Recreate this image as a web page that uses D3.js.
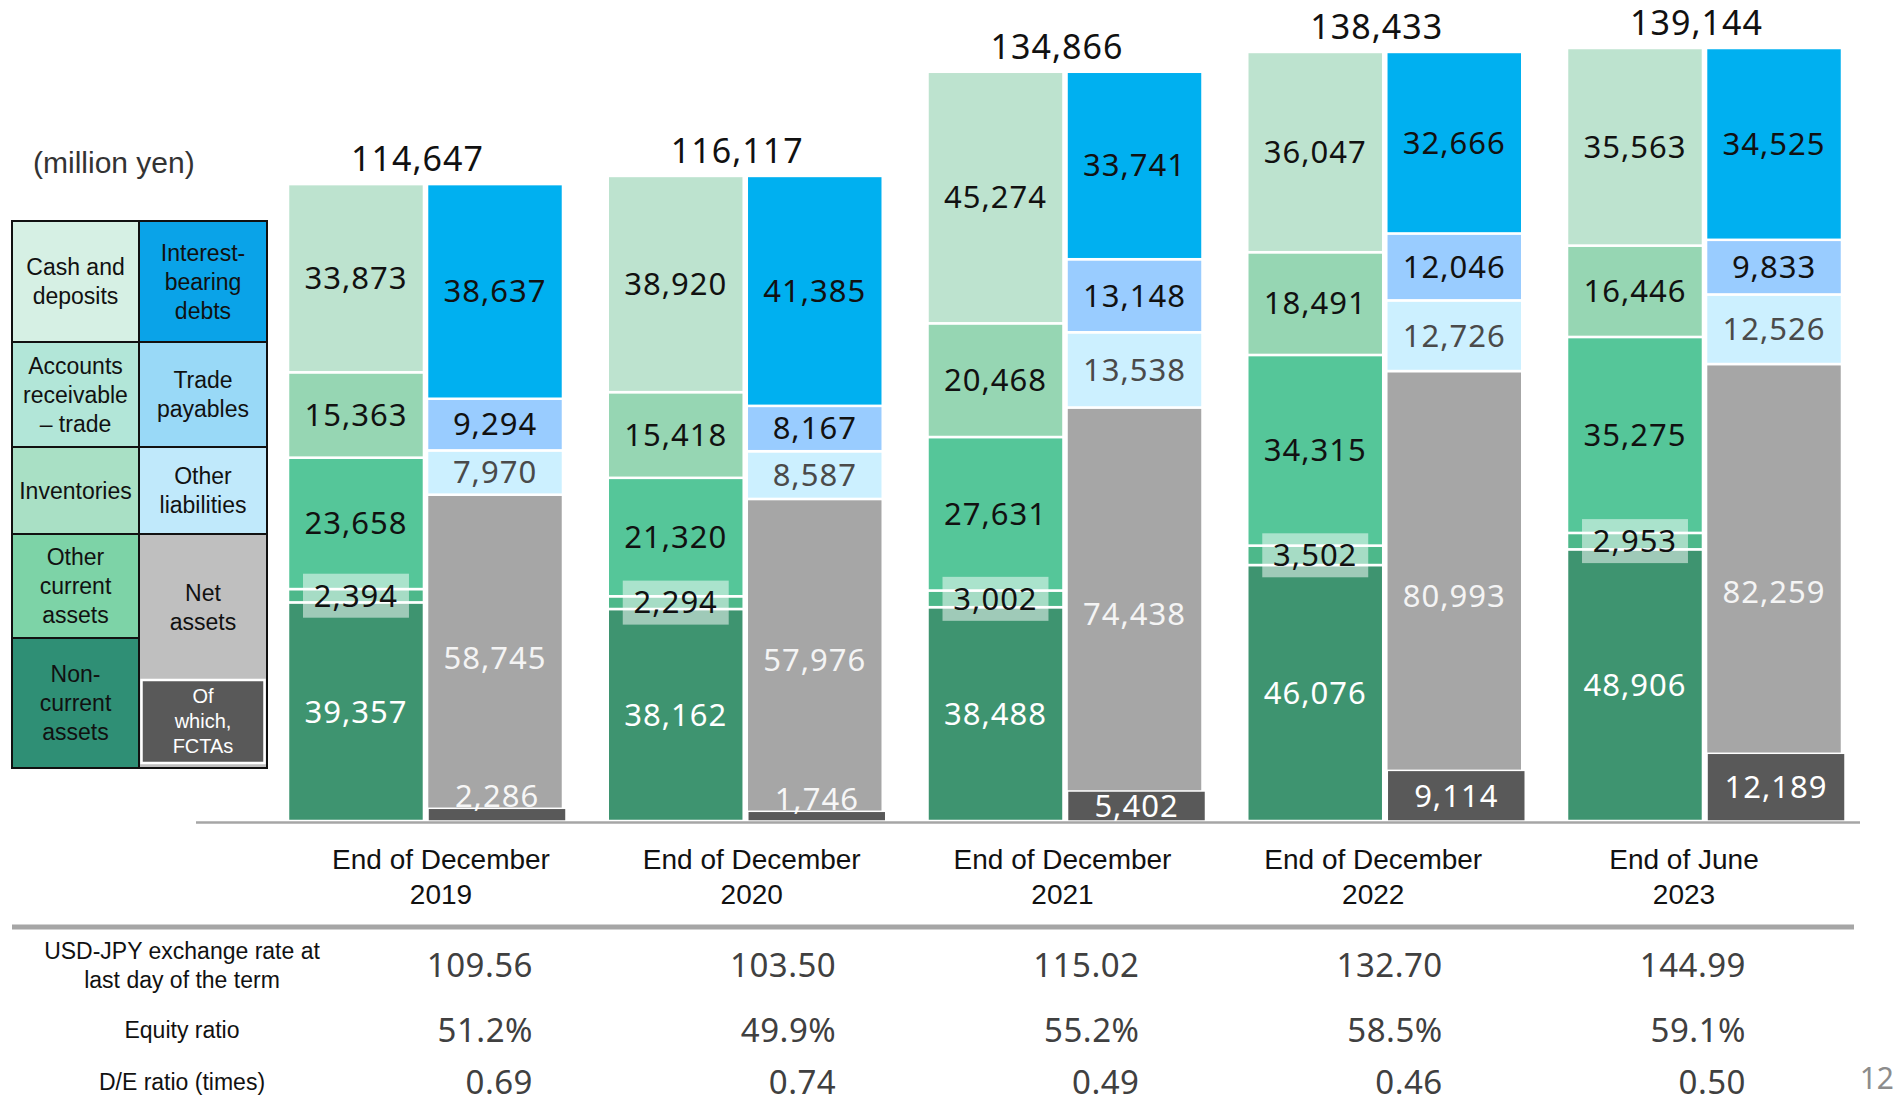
<!DOCTYPE html>
<meta charset="utf-8">
<style>
body { margin:0; background:#fff; }
svg text { font-family:"Noto Sans", sans-serif; }
.arial { font-family:"Liberation Sans", Arial, sans-serif !important; }
</style>
<script src="https://d3js.org/d3.v7.min.js"></script>
<div id="chart"></div>
<script>
// data (million yen)
var categories = ["2019", "2020", "2021", "2022", "2023"];
var catLabels = [["End of December", "2019"], ["End of December", "2020"], ["End of December", "2021"], ["End of December", "2022"], ["End of June", "2023"]];
var totals = [114647, 116117, 134866, 138433, 139144];

var cash = [33873, 38920, 45274, 36047, 35563];
var receivables = [15363, 15418, 20468, 18491, 16446];
var inventories = [23658, 21320, 27631, 34315, 35275];
var otherCurrent = [2394, 2294, 3002, 3502, 2953];
var nonCurrent = [39357, 38162, 38488, 46076, 48906];

var interestDebt = [38637, 41385, 33741, 32666, 34525];
var tradePayables = [9294, 8167, 13148, 12046, 9833];
var otherLiab = [7970, 8587, 13538, 12726, 12526];
var netAssets = [58745, 57976, 74438, 80993, 82259];
var fctas = [2286, 1746, 5402, 9114, 12189];

var fxRate = ["109.56", "103.50", "115.02", "132.70", "144.99"];
var equityRatio = ["51.2%", "49.9%", "55.2%", "58.5%", "59.1%"];
var deRatio = ["0.69", "0.74", "0.49", "0.46", "0.50"];

var W = 1894, H = 1104;
var svg = d3.select("#chart").append("svg").attr("width", W).attr("height", H);

// scales
var x = d3.scaleBand().domain(categories).range([288, 1842]).paddingInner(0.14).paddingOuter(0);
var xSide = d3.scaleBand().domain(["assets", "liab"]).range([0, x.bandwidth()]).paddingInner(0.022);
var y = d3.scaleLinear().domain([0, d3.max(totals)]).range([821, 48]);

var fmt = d3.format(",");

// build rows
var rows = categories.map(function(c, i) {
  return { cat: c, cash: cash[i], receivables: receivables[i], inventories: inventories[i],
    otherCurrent: otherCurrent[i], nonCurrent: nonCurrent[i], interestDebt: interestDebt[i],
    tradePayables: tradePayables[i], otherLiab: otherLiab[i], netAssets: netAssets[i], fctas: fctas[i] };
});

var assetKeys = ["nonCurrent", "otherCurrent", "inventories", "receivables", "cash"];
var liabKeys = ["netAssets", "otherLiab", "tradePayables", "interestDebt"];
var fill = {
  cash: "#bde3cf", receivables: "#96d6b3", inventories: "#55c699", otherCurrent: "#4db88a", nonCurrent: "#3e9470",
  interestDebt: "#00b0f0", tradePayables: "#99ccff", otherLiab: "#ccf0ff", netAssets: "#a6a6a6"
};
var txt = {
  cash: "#111", receivables: "#111", inventories: "#111", otherCurrent: "#111", nonCurrent: "#fff",
  interestDebt: "#111", tradePayables: "#111", otherLiab: "#4a4a4a", netAssets: "#f4f4f4"
};

var barLayer = svg.append("g");
var boxLayer = svg.append("g");
var fctaLayer = svg.append("g");
var labelLayer = svg.append("g");

function drawSide(keys, side) {
  var series = d3.stack().keys(keys)(rows);
  series.forEach(function(s) {
    barLayer.append("g").selectAll("rect").data(s).join("rect")
      .attr("x", function(d) { return x(d.data.cat) + xSide(side); })
      .attr("width", xSide.bandwidth())
      .attr("y", function(d) { return y(d[1]); })
      .attr("height", function(d) { return y(d[0]) - y(d[1]); })
      .attr("fill", fill[s.key])
      .attr("stroke", "#fff").attr("stroke-width", 2.5);
    if (s.key === "otherCurrent") {
      // thin segment gets a see-through label box
      boxLayer.selectAll("rect").data(s).join("rect")
        .attr("x", function(d) { return x(d.data.cat) + xSide(side) + 15; })
        .attr("width", xSide.bandwidth() - 30)
        .attr("y", function(d) { return (y(d[0]) + y(d[1])) / 2 - 22; })
        .attr("height", 44)
        .attr("fill", "#fff").attr("opacity", 0.5);
    }
    labelLayer.append("g").selectAll("text").data(s).join("text")
      .attr("x", function(d) { return x(d.data.cat) + xSide(side) + xSide.bandwidth() / 2; })
      .attr("y", function(d) { return (y(d[0]) + y(d[1])) / 2; })
      .attr("dy", "0.35em")
      .attr("text-anchor", "middle")
      .attr("font-size", 31).attr("letter-spacing", 1)
      .attr("fill", txt[s.key])
      .text(function(d) { return fmt(d[1] - d[0]); });
  });
}
drawSide(assetKeys, "assets");
drawSide(liabKeys, "liab");

// FCTAs inside net assets
fctaLayer.selectAll("rect").data(rows).join("rect")
  .attr("x", function(d) { return x(d.cat) + xSide("liab") + 1; })
  .attr("width", xSide.bandwidth() + 2)
  .attr("y", function(d) { return y(d.fctas); })
  .attr("height", function(d) { return y(0) - y(d.fctas); })
  .attr("fill", "#595959").attr("stroke", "#fff").attr("stroke-width", 1.5);

labelLayer.append("g").selectAll("text").data(rows).join("text")
  .attr("x", function(d) { return x(d.cat) + xSide("liab") + xSide.bandwidth() / 2 + 2; })
  .attr("y", function(d) {
    var h = y(0) - y(d.fctas);
    return h < 28 ? y(d.fctas) - 12 : y(d.fctas / 2);
  })
  .attr("dy", "0.35em").attr("text-anchor", "middle")
  .attr("font-size", 31).attr("letter-spacing", 1).attr("fill", "#fff")
  .attr("opacity", function(d) { return y(0) - y(d.fctas) < 28 ? 0.9 : 1; })
  .text(function(d) { return fmt(d.fctas); });

// totals
labelLayer.append("g").selectAll("text").data(rows).join("text")
  .attr("x", function(d) { return x(d.cat) + x.bandwidth() / 2 - 8; })
  .attr("y", function(d, i) { return y(totals[i]) - 13; })
  .attr("text-anchor", "middle")
  .attr("font-size", 34).attr("letter-spacing", 1).attr("fill", "#111")
  .text(function(d, i) { return fmt(totals[i]); });

// baseline
svg.append("line").attr("x1", 196).attr("x2", 1860).attr("y1", y(0) + 1.5).attr("y2", y(0) + 1.5)
  .attr("stroke", "#a6a6a6").attr("stroke-width", 2.5);

// category labels
var xCat = d3.scalePoint().domain(categories).range([441, 1684]);
var catG = svg.append("g").selectAll("text").data(categories).join("text")
  .attr("class", "arial")
  .attr("x", function(d) { return xCat(d); })
  .attr("y", 859).attr("text-anchor", "middle")
  .attr("font-size", 28).attr("fill", "#111");
catG.selectAll("tspan").data(function(d, i) { return catLabels[i]; }).join("tspan")
  .attr("x", function() { return xCat(d3.select(this.parentNode).datum()); })
  .attr("dy", function(d, j) { return j === 0 ? "0.35em" : "1.25em"; })
  .text(function(d) { return d; });

// table separator
svg.append("line").attr("x1", 12).attr("x2", 1854).attr("y1", 927).attr("y2", 927)
  .attr("stroke", "#a6a6a6").attr("stroke-width", 5);

// table
var xVal = d3.scalePoint().domain(categories).range([533, 1746]);
var tableRows = [
  { label: ["USD-JPY exchange rate at", "last day of the term"], values: fxRate, y: 965 },
  { label: ["Equity ratio"], values: equityRatio, y: 1030 },
  { label: ["D/E ratio (times)"], values: deRatio, y: 1082 }
];
tableRows.forEach(function(r) {
  var t = svg.append("text").attr("class", "arial").attr("x", 182)
    .attr("y", r.y - (r.label.length - 1) * 14.5).attr("text-anchor", "middle")
    .attr("font-size", 23).attr("fill", "#111");
  t.selectAll("tspan").data(r.label).join("tspan")
    .attr("x", 182).attr("dy", function(d, j) { return j === 0 ? "0.35em" : "1.26em"; })
    .text(function(d) { return d; });
  svg.append("g").selectAll("text").data(r.values).join("text")
    .attr("x", function(d, i) { return xVal(categories[i]); })
    .attr("y", r.y).attr("dy", "0.35em").attr("text-anchor", "end")
    .attr("font-size", 33).attr("letter-spacing", 0.5).attr("fill", "#404040")
    .text(function(d) { return d; });
});

svg.append("text").attr("x", 1894).attr("y", 1078).attr("dy", "0.35em").attr("text-anchor", "end")
  .attr("font-size", 30).attr("fill", "#8c8c8c").text("12");

// unit
svg.append("text").attr("class", "arial").attr("x", 33).attr("y", 162).attr("dy", "0.35em")
  .attr("font-size", 30).attr("fill", "#333").text("(million yen)");

// legend
var assetLegend = [["Cash and", "deposits"], ["Accounts", "receivable", "\u2013 trade"], ["Inventories"], ["Other", "current", "assets"], ["Non-", "current", "assets"]];
var liabLegend = [["Interest-", "bearing", "debts"], ["Trade", "payables"], ["Other", "liabilities"], ["Net", "assets"]];
var assetLegendFill = ["#d6f0e4", "#b2e6d8", "#a9e0c5", "#7dd3a7", "#2f8f75"];
var liabLegendFill = ["#0aa3e8", "#99d9f7", "#c0e9fb", "#bfbfbf"];
var legL = 12, legM = 139, legR = 267;
var legY = [221, 342, 447, 534, 638, 768];
var legYR = [221, 342, 447, 534, 768];
var lg = svg.append("g");

function legendCells(labels, fills, ys, x0, x1) {
  labels.forEach(function(lines, i) {
    lg.append("rect").attr("x", x0).attr("y", ys[i]).attr("width", x1 - x0).attr("height", ys[i + 1] - ys[i])
      .attr("fill", fills[i]).attr("stroke", "#111").attr("stroke-width", 2);
  });
}
legendCells(assetLegend, assetLegendFill, legY, legL, legM);
legendCells(liabLegend, liabLegendFill, legYR, legM, legR);
lg.append("rect").attr("x", legM + 2.5).attr("y", 680).attr("width", legR - legM - 5).attr("height", 83)
  .attr("fill", "#595959").attr("stroke", "#fff").attr("stroke-width", 2.5);

function legendText(lines, cx, cy, size, color, lh) {
  var t = lg.append("text").attr("class", "arial").attr("x", cx)
    .attr("y", cy - (lines.length - 1) * lh / 2).attr("text-anchor", "middle")
    .attr("font-size", size).attr("fill", color);
  t.selectAll("tspan").data(lines).join("tspan").attr("x", cx)
    .attr("dy", function(d, j) { return j === 0 ? "0.35em" : lh + "px"; })
    .text(function(d) { return d; });
}
assetLegend.forEach(function(lines, i) {
  legendText(lines, (legL + legM) / 2, (legY[i] + legY[i + 1]) / 2, 23, "#111", 29);
});
liabLegend.forEach(function(lines, i) {
  var cy = i === 3 ? (534 + 680) / 2 : (legYR[i] + legYR[i + 1]) / 2;
  legendText(lines, (legM + legR) / 2, cy, 23, "#111", 29);
});
legendText(["Of", "which,", "FCTAs"], (legM + legR) / 2, 721, 20, "#fff", 25);
</script>
